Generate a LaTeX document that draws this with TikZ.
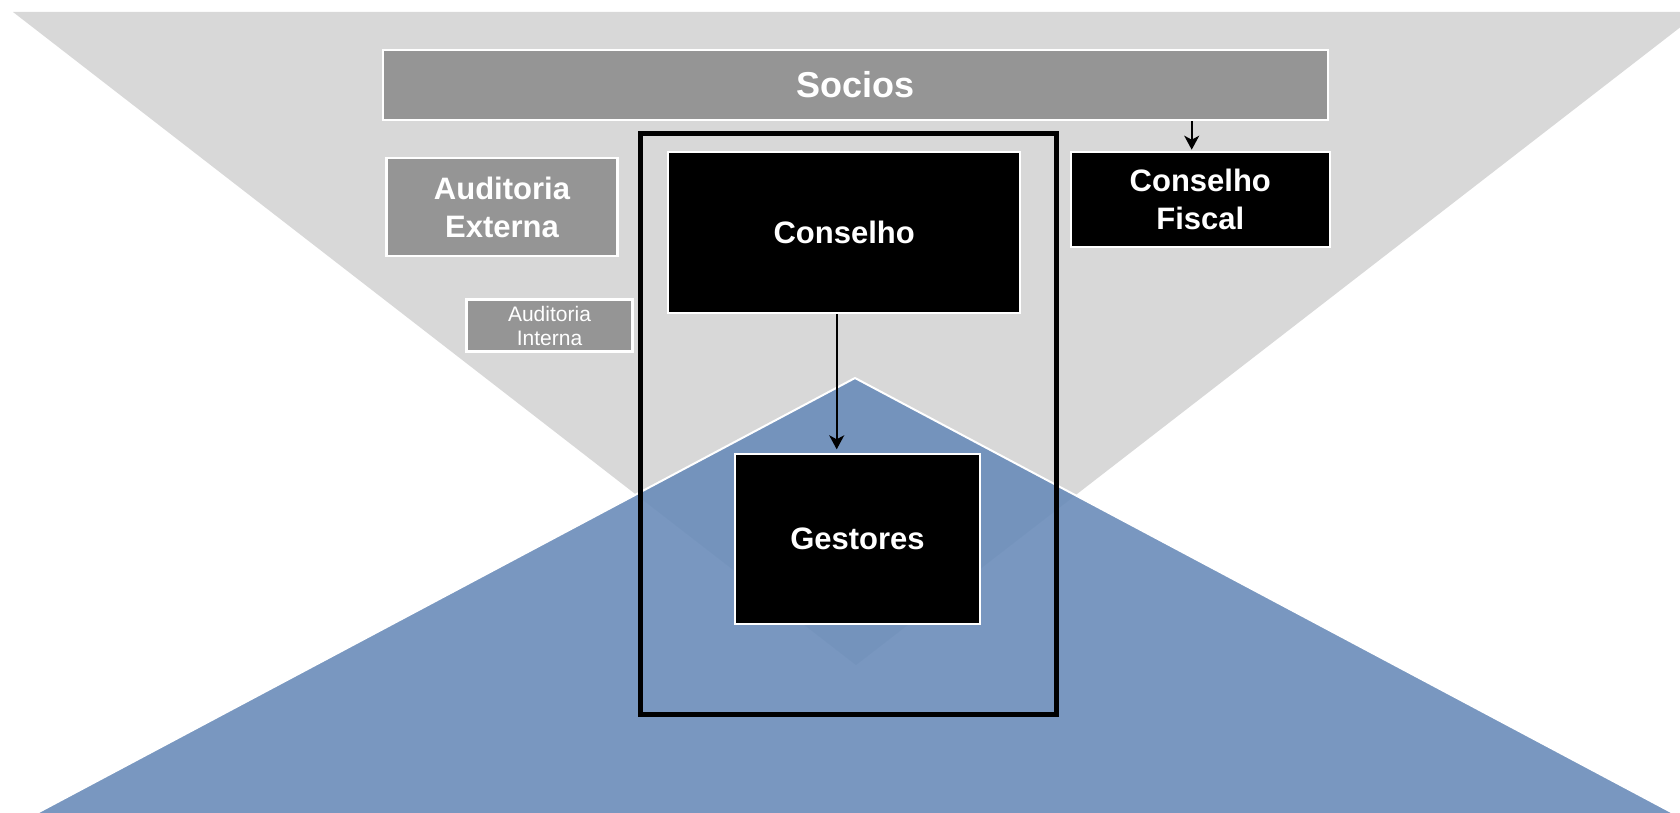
\documentclass[tikz,border=0pt]{standalone}
\usepackage{fontspec}
\setmainfont{Liberation Sans}
\usetikzlibrary{arrows.meta}
\definecolor{bglight}{HTML}{D8D8D8}
\definecolor{boxgray}{HTML}{959595}
\definecolor{bluetri}{HTML}{6A8CB9}
\tikzset{
  graybox/.style={draw=white, line width=2.5pt, fill=boxgray, text=white, inner sep=0pt, align=center},
  blackbox/.style={draw=white, line width=2pt, fill=black, text=white, inner sep=0pt, align=center},
  bigfont/.style={font=\fontsize{31}{38}\selectfont\bfseries},
  arr/.style={line width=2pt, -{Stealth[length=14pt,width=15pt,inset=4pt]}},
}
\begin{document}
\begin{tikzpicture}[x=1pt,y=-1pt]
\useasboundingbox (0,0) rectangle (1680,813);
\begin{scope}
\clip (0,0) rectangle (1680,813);
% gray inverted triangle
\fill[bglight] (13,12) -- (1700,12) -- (856,665) -- cycle;
% blue triangle
\fill[bluetri, fill opacity=0.9] (855,378) -- (1690,822) -- (20,822) -- cycle;
\draw[white, line width=2pt] (20,822) -- (855,378) -- (1690,822);
\end{scope}
% boxes
\node[graybox, minimum width=945pt, minimum height=70pt, font=\fontsize{36}{42}\selectfont\bfseries] (socios) at (855.5,85) {Socios};
\node[graybox, bigfont, minimum width=230.6pt, minimum height=97.7pt] (audext) at (502,207) {Auditoria\\Externa};
\node[graybox, minimum width=165.6pt, minimum height=52.4pt, font=\fontsize{21}{24}\selectfont] (audint) at (549.5,325.5) {Auditoria\\Interna};
\node[draw=black, line width=5pt, minimum width=416pt, minimum height=580pt, inner sep=0pt] (frame) at (848,424) {};
\node[blackbox, bigfont, minimum width=351.7pt, minimum height=161.6pt] (conselho) at (844.2,232.5) {Conselho};
\node[blackbox, bigfont, minimum width=259.3pt, minimum height=95.6pt] (cfiscal) at (1200.3,199.5) {Conselho\\Fiscal};
\node[blackbox, bigfont, minimum width=245pt, minimum height=170pt] (gestores) at (857.5,539.3) {Gestores};
% arrows
\draw[arr, shorten >=4pt] ([xshift=-7.5pt]conselho.south) -- ([xshift=-20.8pt]gestores.north);
\path ([xshift=-8.6pt]cfiscal.north) coordinate (cfn);
\draw[arr, shorten >=1pt] (cfn |- socios.south) -- (cfn);
\end{tikzpicture}
\end{document}
